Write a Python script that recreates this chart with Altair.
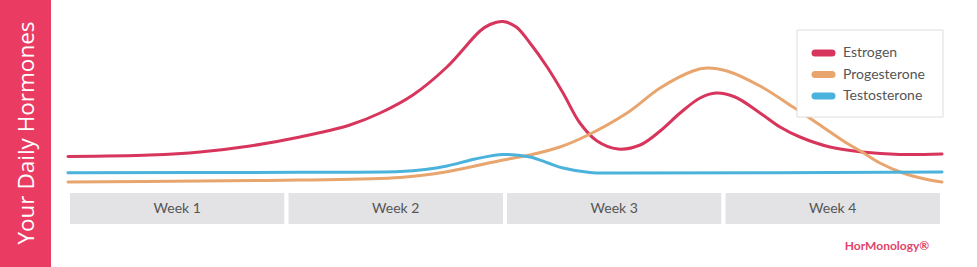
import altair as alt
import pandas as pd

# ---- data (day of cycle, relative level) ----
est_day = [0.00, 2.63, 4.23, 5.83, 7.43, 9.03, 10.00, 11.05, 12.14, 13.20, 13.52, 13.94, 14.36, 14.80,
           15.35, 15.86, 16.40, 16.95, 17.62, 18.33, 18.97, 19.61, 20.25, 20.76, 21.37, 22.17, 22.81,
           23.45, 24.41, 25.44, 26.65, 28.00]
est_lvl = [25.5, 27, 30, 36, 45, 57, 69, 87, 115, 151, 157.5, 160.5, 155, 139,
           115, 89, 59, 41, 33, 37, 51, 69, 84, 89, 85, 69, 55,
           45, 35, 30, 27.5, 28]

pro_day = [0.00, 4.23, 7.43, 10.64, 12.14, 13.94, 14.80, 15.76, 16.63, 17.91, 18.97, 20.02, 20.47,
           21.11, 22.17, 23.23, 24.09, 24.89, 25.44, 26.01, 26.75, 27.46, 28.00]
pro_lvl = [0, 1, 2, 4.5, 10.3, 22, 27, 35, 46.5, 69, 94, 111, 114,
           111, 96, 75, 57, 40, 30, 19, 9, 3, 0]

tes_day = [0.00, 7.43, 10.64, 11.44, 12.14, 13.04, 13.94, 14.80, 15.38, 15.86, 16.72, 17.68, 28.00]
tes_lvl = [9.3, 9.7, 10.5, 12.5, 16, 23, 27.5, 25, 19, 14, 9.5, 9, 10]

series_names = ["Estrogen", "Progesterone", "Testosterone"]
series_colors = ["#D7355C", "#E9A56E", "#4BB3DB"]

week_labels = ["Week 1", "Week 2", "Week 3", "Week 4"]
week_start = [0, 7, 14, 21]
week_end = [7, 14, 21, 28]

title_text = "Your Daily Hormones"
logo_text = "HorMonology®"

# ---- frames ----
rows = []
for name, days, lvls in zip(series_names, [est_day, pro_day, tes_day], [est_lvl, pro_lvl, tes_lvl]):
    for d, v in zip(days, lvls):
        rows.append({"hormone": name, "day": d, "level": v})
lines_df = pd.DataFrame(rows)
weeks_df = pd.DataFrame({"label": week_labels, "start": week_start, "end": week_end,
                         "mid": [(a + b) / 2 for a, b in zip(week_start, week_end)]})
one = pd.DataFrame({"k": [0]})

W, H = 977, 267
px_per_day = (942 - 68) / 28
xs = alt.Scale(domain=[-68 / px_per_day, (W - 68) / px_per_day], range=[0, W], nice=False, zero=False)
ys = alt.Scale(domain=[-85, 182], range=[H, 0], nice=False, zero=False)

sidebar = alt.Chart(one).mark_rect(color="#EA3C62").encode(
    x=alt.value(0), x2=alt.value(51), y=alt.value(0), y2=alt.value(H))
side_text = alt.Chart(pd.DataFrame({"t": [title_text]})).mark_text(
    angle=270, color="white", font="Open Sans", fontSize=22.5, align="center", baseline="middle"
).encode(x=alt.value(27), y=alt.value(133), text="t:N")

week_boxes = alt.Chart(weeks_df).mark_rect(color="#E3E3E5", stroke="white", strokeWidth=4).encode(
    x=alt.X("start:Q", scale=xs, axis=None), x2="end:Q",
    y=alt.value(191), y2=alt.value(226))
week_text = alt.Chart(weeks_df).mark_text(
    font="Lato", fontSize=14, color="#555555", baseline="middle"
).encode(x=alt.X("mid:Q", scale=xs, axis=None), y=alt.value(209), text="label:N")

lines = alt.Chart(lines_df).mark_line(interpolate="catmull-rom", strokeWidth=3, strokeCap="round").encode(
    x=alt.X("day:Q", scale=xs, axis=None),
    y=alt.Y("level:Q", scale=ys, axis=None),
    color=alt.Color("hormone:N", scale=alt.Scale(domain=series_names, range=series_colors), legend=None),
    order=alt.Order("day:Q"))

legend_box = alt.Chart(one).mark_rect(fill="white", stroke="#DDDDDD", strokeWidth=1).encode(
    x=alt.value(797), x2=alt.value(943), y=alt.value(30), y2=alt.value(117))

layers = [sidebar, side_text, week_boxes, week_text, lines, legend_box]
for i, (name, col) in enumerate(zip(series_names, series_colors)):
    yy = 53 + i * 21.5
    layers.append(alt.Chart(one).mark_rule(color=col, strokeWidth=7, strokeCap="round").encode(
        x=alt.value(815), x2=alt.value(832), y=alt.value(yy)))
    layers.append(alt.Chart(pd.DataFrame({"t": [name]})).mark_text(
        font="Lato", fontSize=14, color="#555555", align="left", baseline="middle"
    ).encode(x=alt.value(843), y=alt.value(yy), text="t:N"))

layers.append(alt.Chart(pd.DataFrame({"t": [logo_text]})).mark_text(
    font="Lato", fontSize=12, fontWeight="bold", color="#E0456A", align="center", baseline="middle"
).encode(x=alt.value(887), y=alt.value(246), text="t:N"))

chart = alt.layer(*layers).properties(
    width=W, height=H, autosize=alt.AutoSizeParams(type="none"), padding=0, background="white"
).configure_view(stroke=None)

chart.save("out.html", embed_options={"renderer": "svg", "actions": False})
